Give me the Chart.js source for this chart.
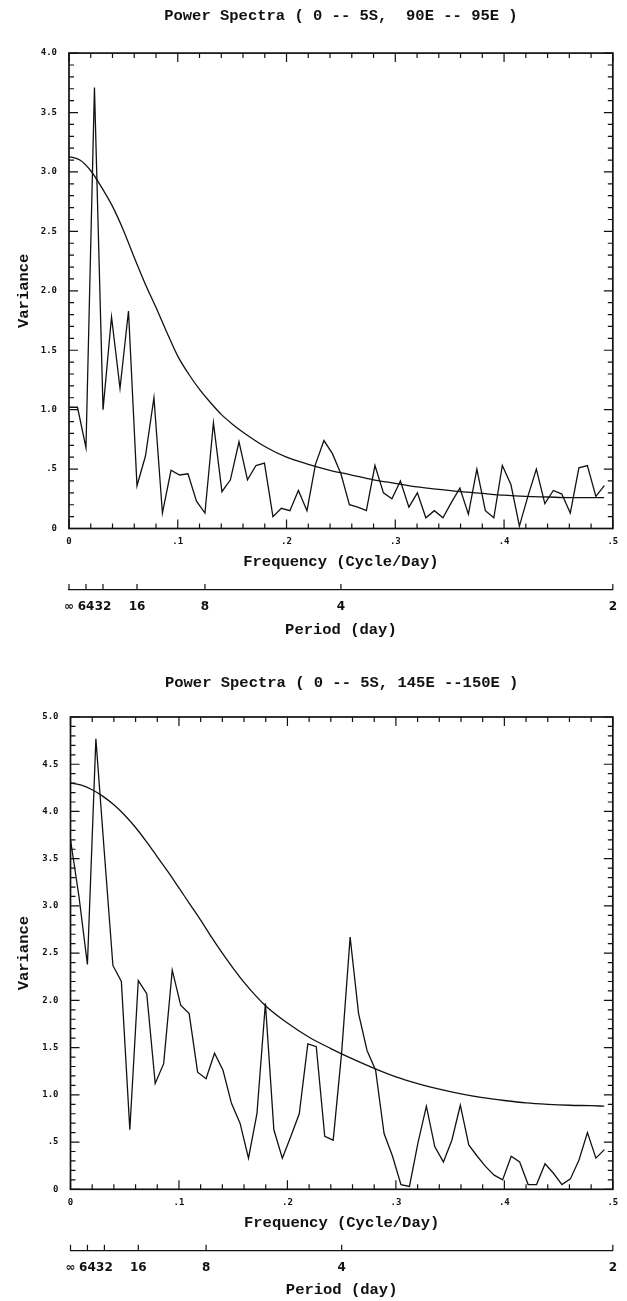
<!DOCTYPE html>
<html>
<head>
<meta charset="utf-8">
<title>Power Spectra</title>
<script src="https://cdn.jsdelivr.net/npm/chart.js@4.4.1/dist/chart.umd.min.js"></script>
<style>
  body { margin: 0; background: #fff; }
  canvas { display: block; }
</style>
</head>
<body>
<canvas id="spectraTop" width="627" height="650"></canvas>
<canvas id="spectraBottom" width="627" height="651"></canvas>
<script>
// frequency bins (cycle/day)
var frequency = [
    0, .0078, .0156, .0234, .0313, .0391, .0469, .0547,
    .0625, .0703, .0781, .0859, .0938, .1016, .1094, .1172,
    .125, .1328, .1406, .1484, .1563, .1641, .1719, .1797,
    .1875, .1953, .2031, .2109, .2188, .2266, .2344, .2422,
    .25, .2578, .2656, .2734, .2813, .2891, .2969, .3047,
    .3125, .3203, .3281, .3359, .3438, .3516, .3594, .3672,
    .375, .3828, .3906, .3984, .4063, .4141, .4219, .4297,
    .4375, .4453, .4531, .4609, .4688, .4766, .4844, .4922
];

// 0 -- 5S, 90E -- 95E
var powerA = [
    1.02, 1.02, 0.68, 3.71, 1.00, 1.78, 1.18, 1.83,
    0.36, 0.61, 1.10, 0.13, 0.49, 0.45, 0.46, 0.23,
    0.13, 0.89, 0.31, 0.41, 0.73, 0.41, 0.53, 0.55,
    0.10, 0.17, 0.15, 0.32, 0.15, 0.54, 0.74, 0.63,
    0.46, 0.20, 0.18, 0.15, 0.53, 0.30, 0.25, 0.40,
    0.18, 0.30, 0.09, 0.15, 0.09, 0.22, 0.34, 0.12,
    0.50, 0.15, 0.09, 0.53, 0.37, 0.02, 0.27, 0.50,
    0.21, 0.32, 0.29, 0.13, 0.51, 0.53, 0.27, 0.36
];

// 0 -- 5S, 145E -- 150E
var powerB = [
    3.70, 3.10, 2.38, 4.77, 3.55, 2.37, 2.20, 0.63,
    2.21, 2.07, 1.12, 1.33, 2.32, 1.95, 1.86, 1.24,
    1.17, 1.44, 1.26, 0.91, 0.70, 0.33, 0.80, 1.97,
    0.63, 0.33, 0.56, 0.80, 1.54, 1.51, 0.56, 0.52,
    1.45, 2.67, 1.86, 1.47, 1.26, 0.59, 0.35, 0.05,
    0.03, 0.49, 0.88, 0.45, 0.29, 0.52, 0.89, 0.47,
    0.35, 0.24, 0.15, 0.10, 0.35, 0.29, 0.05, 0.05,
    0.27, 0.17, 0.05, 0.11, 0.31, 0.60, 0.33, 0.42
];

// smooth background curves, read at these frequencies
var fitFreq = [
    0, .01, .02, .03, .04, .05, .06, .07, .08, .09, .10, .11, .12, .13, .14, .15, .16,
    .18, .20, .22, .24, .26, .28, .30, .32, .34, .36, .38, .40, .42, .44, .46, .48, .492
];
var fitA = [
    3.13, 3.10, 3.01, 2.87, 2.71, 2.51, 2.28, 2.06, 1.86, 1.65, 1.45, 1.30, 1.17, 1.06, 0.96, 0.88, 0.81,
    0.69, 0.60, 0.54, 0.49, 0.45, 0.41, 0.38, 0.35, 0.33, 0.31, 0.295, 0.28, 0.27, 0.265, 0.26, 0.26, 0.26
];
var fitB = [
    4.30, 4.28, 4.23, 4.16, 4.07, 3.96, 3.83, 3.68, 3.52, 3.36, 3.19, 3.02, 2.85, 2.67, 2.50, 2.34, 2.19,
    1.94, 1.76, 1.61, 1.49, 1.38, 1.28, 1.19, 1.12, 1.06, 1.01, 0.97, 0.94, 0.915, 0.90, 0.89, 0.885, 0.88
];

var periodDays = [Infinity, 64, 32, 16, 8, 4, 2];
var periodLabels = ['\u221e', '64', '32', '16', '8', '4', '2'];

var ink = '#111';
var textFont = { family: '"Liberation Mono", monospace', size: 15.5, weight: 'bold' };
var tickFont = { family: '"DejaVu Sans Mono", monospace', size: 9, weight: 'bold' };
var periodFont = { family: '"DejaVu Sans", sans-serif', size: 12, weight: 'bold' };

// box frame plus inward tick marks, and upward ticks on the period axis
var frameTicks = {
    id: 'frameTicks',
    afterDatasetsDraw: function (chart) {
        var c = chart.ctx, a = chart.chartArea;
        var sx = chart.scales.x, sy = chart.scales.y, sp = chart.scales.period;
        c.save();
        c.strokeStyle = ink;
        c.lineWidth = 1.7;
        c.strokeRect(a.left, a.top, a.right - a.left, a.bottom - a.top);
        c.lineWidth = 1.2;
        c.beginPath();
        sx.ticks.forEach(function (t) {
            var px = sx.getPixelForValue(t.value);
            var len = Math.round(t.value * 100) % 10 === 0 ? 9 : 5;
            c.moveTo(px, a.bottom); c.lineTo(px, a.bottom - len);
            c.moveTo(px, a.top); c.lineTo(px, a.top + len);
        });
        sy.ticks.forEach(function (t) {
            var py = sy.getPixelForValue(t.value);
            var len = Math.round(t.value * 10) % 5 === 0 ? 9 : 5;
            c.moveTo(a.left, py); c.lineTo(a.left + len, py);
            c.moveTo(a.right, py); c.lineTo(a.right - len, py);
        });
        sp.ticks.forEach(function (t) {
            var px = sp.getPixelForValue(t.value);
            c.moveTo(px, sp.top); c.lineTo(px, sp.top - 6);
        });
        c.stroke();
        c.restore();
    }
};

function freqLabel(v) {
    var k = Math.round(v * 100);
    if (k % 10 !== 0) return '';
    return k === 0 ? '0' : '.' + (k / 10);
}

function varLabel(v) {
    var k = Math.round(v * 10);
    if (k % 5 !== 0) return '';
    if (k === 0) return '0';
    if (k === 5) return '.5';
    return (k / 10).toFixed(1);
}

function drawSpectrum(canvasId, title, power, fit, yMax, lay) {
    var ctx = document.getElementById(canvasId).getContext('2d');
    return new Chart(ctx, {
        type: 'line',
        data: {
            datasets: [{
                data: frequency.map(function (f, i) { return { x: f, y: power[i] }; }),
                borderColor: ink,
                borderWidth: 1.3,
                pointRadius: 0,
                tension: 0
            }, {
                data: fitFreq.map(function (f, i) { return { x: f, y: fit[i] }; }),
                borderColor: ink,
                borderWidth: 1.3,
                pointRadius: 0,
                cubicInterpolationMode: 'monotone'
            }]
        },
        options: {
            responsive: false,
            animation: false,
            layout: { padding: { left: 0, right: 11, top: 0, bottom: lay.bottom } },
            plugins: {
                legend: { display: false },
                tooltip: { enabled: false },
                title: {
                    display: true,
                    text: title,
                    fullSize: false,
                    color: ink,
                    font: textFont,
                    padding: { top: lay.titleTop, bottom: lay.titleBottom }
                }
            },
            scales: {
                x: {
                    type: 'linear',
                    position: 'bottom',
                    min: 0,
                    max: 0.5,
                    afterFit: function (s) { s.height = 61.5; },
                    grid: { drawOnChartArea: false, drawTicks: false },
                    border: { display: false },
                    ticks: {
                        stepSize: 0.02,
                        autoSkip: false,
                        maxRotation: 0,
                        padding: 8,
                        color: ink,
                        font: tickFont,
                        callback: freqLabel
                    },
                    title: {
                        display: true,
                        text: 'Frequency (Cycle/Day)',
                        color: ink,
                        font: textFont,
                        padding: { top: 0, bottom: 18.5 }
                    }
                },
                period: {
                    type: 'linear',
                    position: 'bottom',
                    weight: 1,
                    min: 0,
                    max: 0.5,
                    afterBuildTicks: function (s) {
                        s.ticks = periodDays.map(function (d) { return { value: 1 / d }; });
                    },
                    afterFit: function (s) { s.height = 49; },
                    grid: { drawOnChartArea: false, drawTicks: false },
                    border: { display: true, color: ink, width: 1.3 },
                    ticks: {
                        autoSkip: false,
                        maxRotation: 0,
                        padding: 10,
                        color: ink,
                        font: periodFont,
                        callback: function (v, i) { return periodLabels[i]; }
                    },
                    title: {
                        display: true,
                        text: 'Period (day)',
                        color: ink,
                        font: textFont,
                        padding: { top: 0, bottom: 0 }
                    }
                },
                y: {
                    type: 'linear',
                    min: 0,
                    max: yMax,
                    afterFit: function (s) { s.width = lay.left; },
                    grid: { drawOnChartArea: false, drawTicks: false },
                    border: { display: false },
                    ticks: {
                        stepSize: 0.1,
                        autoSkip: false,
                        padding: 12,
                        color: ink,
                        font: tickFont,
                        callback: varLabel
                    },
                    title: {
                        display: true,
                        text: 'Variance',
                        color: ink,
                        font: textFont,
                        padding: { top: 15, bottom: 0 }
                    }
                }
            }
        },
        plugins: [frameTicks]
    });
}

document.addEventListener('DOMContentLoaded', function () {
    drawSpectrum('spectraTop', 'Power Spectra ( 0 -- 5S,  90E -- 95E )', powerA, fitA, 4,
        { left: 69, titleTop: 6.5, titleBottom: 28, bottom: 11 });
    drawSpectrum('spectraBottom', 'Power Spectra ( 0 -- 5S, 145E --150E )', powerB, fitB, 5,
        { left: 70.5, titleTop: 23.7, titleBottom: 24.7, bottom: 1.2 });
});
</script>
</body>
</html>
